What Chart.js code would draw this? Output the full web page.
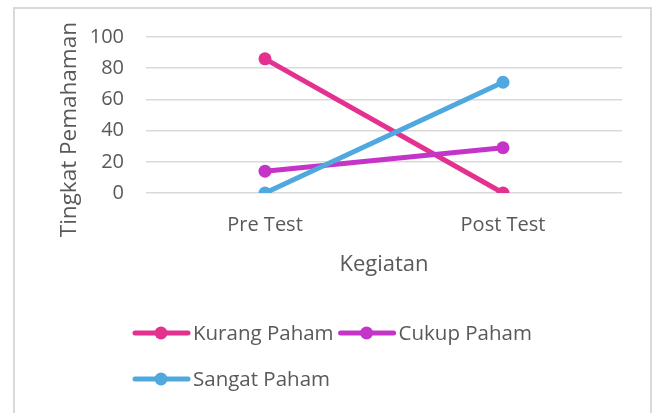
<!DOCTYPE html>
<html>
<head>
<meta charset="utf-8">
<script src="https://cdn.jsdelivr.net/npm/chart.js@4"></script>
<style>
  html, body { margin: 0; padding: 0; background: #fff; }
  #wrap { width: 655px; height: 413px; }
</style>
</head>
<body>
<div id="wrap"><canvas id="chart" width="655" height="413"></canvas></div>
<script>
const categories = ['Pre Test', 'Post Test'];
const kurangPaham = [86, 0];
const cukupPaham = [14, 29];
const sangatPaham = [0, 71];
const yTicks = [0, 20, 40, 60, 80, 100];

const textColor = '#595959';
const fontFamily = "'Open Sans', sans-serif";

// frame around the whole chart, like the office export
const framePlugin = {
  id: 'frame',
  beforeDraw(chart) {
    const ctx = chart.ctx;
    ctx.save();
    ctx.strokeStyle = '#d9d9d9';
    ctx.lineWidth = 2;
    ctx.strokeRect(14, 8, 637, 420);
    ctx.restore();
  }
};

// legend with a line + dot marker per series, laid out left to right
const lineLegend = {
  id: 'lineLegend',
  afterDraw(chart) {
    const ctx = chart.ctx;
    const sets = chart.data.datasets;
    ctx.save();
    ctx.font = '20.5px ' + fontFamily;
    ctx.textBaseline = 'middle';
    const startX = 133;
    const maxX = 560;
    let x = startX;
    let y = 333;
    sets.forEach((ds) => {
      const w = 60 + ctx.measureText(ds.label).width;
      if (x + w > maxX && x !== startX) {
        x = startX;
        y += 46;
      }
      ctx.strokeStyle = ds.borderColor;
      ctx.lineWidth = 5;
      ctx.lineCap = 'round';
      ctx.beginPath();
      ctx.moveTo(x + 2, y);
      ctx.lineTo(x + 55, y);
      ctx.stroke();
      ctx.fillStyle = ds.borderColor;
      ctx.beginPath();
      ctx.arc(x + 28, y, 6.5, 0, Math.PI * 2);
      ctx.fill();
      ctx.fillStyle = textColor;
      ctx.fillText(ds.label, x + 60, y + 1);
      x += w + 5;
    });
    ctx.restore();
  }
};

function series(label, data, color, order) {
  return {
    label: label,
    data: data,
    borderColor: color,
    backgroundColor: color,
    borderWidth: 5,
    pointRadius: 6.5,
    pointHoverRadius: 6.5,
    pointBorderWidth: 0,
    tension: 0,
    order: order
  };
}

new Chart(document.getElementById('chart').getContext('2d'), {
  type: 'line',
  data: {
    labels: categories,
    datasets: [
      series('Kurang Paham', kurangPaham, '#e4318f', 3),
      series('Cukup Paham', cukupPaham, '#c534c9', 2),
      series('Sangat Paham', sangatPaham, '#4fa8de', 1)
    ]
  },
  options: {
    responsive: false,
    animation: false,
    layout: { padding: { left: 56, top: 37, right: 33, bottom: 135 } },
    plugins: {
      legend: { display: false },
      tooltip: { enabled: false }
    },
    scales: {
      x: {
        offset: true,
        grid: { display: false },
        border: { display: false },
        ticks: {
          color: textColor,
          padding: 12,
          font: { family: fontFamily, size: 20 }
        },
        title: {
          display: true,
          text: 'Kegiatan',
          color: textColor,
          padding: { top: 16, bottom: 0 },
          font: { family: fontFamily, size: 22 }
        },
        afterFit(scale) { scale.height = 85; }
      },
      y: {
        min: 0,
        max: 100,
        afterBuildTicks(scale) { scale.ticks = yTicks.map((v) => ({ value: v })); },
        grid: { color: '#d9d9d9', lineWidth: 1.5, drawTicks: false },
        border: { display: false },
        ticks: {
          color: textColor,
          padding: 22,
          font: { family: fontFamily, size: 20 }
        },
        title: {
          display: true,
          // trailing spaces push the rotated title a little lower, as in the original
          text: 'Tingkat Pemahaman     ',
          color: textColor,
          padding: { top: 0, bottom: 0 },
          font: { family: fontFamily, size: 22.5 }
        },
        afterFit(scale) { scale.width = 90; }
      }
    }
  },
  plugins: [framePlugin, lineLegend]
});
</script>
</body>
</html>
